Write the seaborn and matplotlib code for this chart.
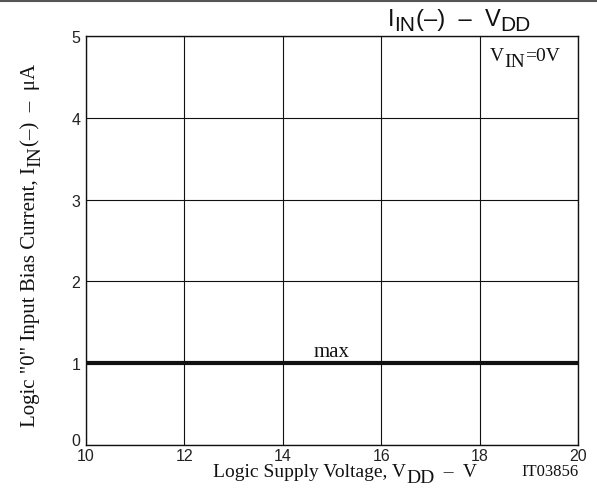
import numpy as np
import pandas as pd
import matplotlib
matplotlib.use('Agg')
import matplotlib.pyplot as plt
import matplotlib.transforms as mtrans
import seaborn as sns

# Data
vdd = [10, 20]
iin_max = [1.0, 1.0]
x_ticks = [10, 12, 14, 16, 18, 20]
y_ticks = [0, 1, 2, 3, 4, 5]

W, H = 597, 502
sns.set_theme(style='white')
plt.rcParams['font.family'] = ['Liberation Sans', 'DejaVu Sans']
SERIF = ['Liberation Serif', 'DejaVu Serif']
SANS = ['Liberation Sans', 'DejaVu Sans']
INK = '#111111'

df = pd.DataFrame({'VDD': vdd, 'IIN': iin_max})

fig = plt.figure(figsize=(W / 100, H / 100), dpi=100)
ax = fig.add_axes([86 / W, 1 - 446 / H, (578 - 86) / W, (446 - 37) / H])

sns.lineplot(data=df, x='VDD', y='IIN', ax=ax, color=INK, linewidth=3)

ax.set_xlim(10, 20)
ax.set_ylim(0, 5)
ax.set_xticks(x_ticks)
ax.set_yticks(y_ticks)
ax.grid(True, color=INK, linewidth=0.8)
for s in ax.spines.values():
    s.set_color(INK)
    s.set_linewidth(1.0)
ax.tick_params(axis='both', length=0, labelsize=11.5, colors='#222222')
ax.tick_params(axis='y', pad=4)
ax.tick_params(axis='x', pad=2)
ax.set_xlabel('')
ax.set_ylabel('')

# lift the "0" label off the x axis like the datasheet
fig.canvas.draw()
ylab0 = ax.get_yticklabels()[0]
ylab0.set_transform(ylab0.get_transform() + mtrans.ScaledTranslation(0, 6 / 100, fig.dpi_scale_trans))

renderer = fig.canvas.get_renderer()


def rich(x0, y0, parts, family, rotation=0):
    """Draw text pieces one after another; (x0, y0) is the baseline start in
    pixels from the top-left; parts are (text, size, drop_px)."""
    pos = 0.0
    for s, size, drop in parts:
        if rotation == 0:
            px, py = x0 + pos, H - (y0 + drop)
        else:
            px, py = x0 + drop, H - (y0 - pos)
        fig.text(px / W, py / H, s, family=family, fontsize=size, color=INK,
                 ha='left', va='baseline', rotation=rotation,
                 rotation_mode='anchor')
        tmp = fig.text(0, 0, s, family=family, fontsize=size)
        pos += tmp.get_window_extent(renderer).width
        tmp.remove()


rich(388, 26, [('I', 17, 0), ('IN', 15, 5), ('(–)  –  V', 17, 0), ('DD', 15, 5)], SANS)
rich(213, 477, [('Logic Supply Voltage, V', 14, 0), ('DD', 14, 6), ('  –  V', 14, 0)], SERIF)
rich(35, 427, [('Logic "0" Input Bias Current, I', 15, 0), ('IN', 14, 5), ('(–)  –  μA', 15, 0)],
     SERIF, rotation=90)
rich(490, 61, [('V', 14, 0), ('IN', 14, 6), ('=0V', 14, 0)], SERIF)

ax.text(15.0, 1.09, 'max', ha='center', va='baseline', family=SERIF, fontsize=15, color=INK)
fig.text(550 / W, 1 - 476 / H, 'IT03856', ha='center', va='baseline', family=SERIF,
         fontsize=12, color=INK)

# thin rule along the top edge of the page
fig.add_artist(plt.Line2D([0, 1], [1 - 2 / H, 1 - 2 / H], transform=fig.transFigure,
                          color='#555555', linewidth=1.5))

fig.savefig('out.png', dpi=100)
